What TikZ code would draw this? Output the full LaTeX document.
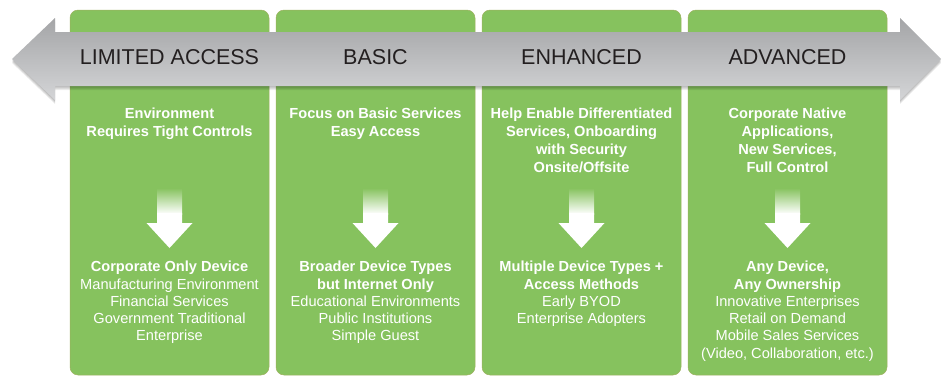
\documentclass[tikz,border=0pt]{standalone}
\usepackage{fontspec}
\setmainfont{Liberation Sans}
\definecolor{colgreen}{RGB}{134,194,94}
\definecolor{coledge}{RGB}{158,176,96}
\definecolor{bandtop}{RGB}{164,165,167}
\definecolor{bandbot}{RGB}{212,213,215}
\definecolor{headtext}{RGB}{35,31,32}
\tikzset{
  column/.style={fill=colgreen, draw=coledge, line width=0.5pt, rounded corners=8pt,
    minimum width=199pt, minimum height=365pt, inner sep=0pt},
  stage/.style={text=headtext, font=\fontsize{21.5}{25}\selectfont, inner sep=0pt},
  upper/.style={text=white, anchor=north, align=center, inner sep=0pt,
    font=\fontsize{14.6}{18}\selectfont\bfseries},
  lower/.style={text=white, anchor=north, align=center, inner sep=0pt,
    font=\fontsize{14.6}{17.3}\selectfont},
}
\begin{document}
\begin{tikzpicture}[x=1pt,y=-1pt]
\useasboundingbox (0,0) rectangle (942,376);

% four green stage columns
\node[column] (colA) at (169.5,192.5) {};
\node[column] (colB) at (375.5,192.5) {};
\node[column] (colC) at (581.5,192.5) {};
\node[column] (colD) at (787.5,192.5) {};

% soft shadow under the grey double arrow
\foreach \d in {1,2,3,4}
  \fill[black, opacity=0.07, yshift=-\d pt]
    (12,59) -- (55,18) -- (55,32) -- (900,32) -- (900,18) -- (941,59)
    -- (900,100) -- (900,86) -- (55,86) -- (55,100) -- cycle;

% grey double arrow
\shade[top color=bandtop, bottom color=bandbot]
  (12,59) -- (55,18) -- (55,32) -- (900,32) -- (900,18) -- (941,59)
  -- (900,100) -- (900,86) -- (55,86) -- (55,100) -- cycle;

% stage titles
\node[stage] (tA) at (colA.center |- 0,57.5) {LIMITED ACCESS};
\node[stage] (tB) at (colB.center |- 0,57.5) {BASIC};
\node[stage] (tC) at (colC.center |- 0,57.5) {ENHANCED};
\node[stage] (tD) at (colD.center |- 0,57.5) {ADVANCED};

% requirements
\node[upper] (rA) at (colA.center |- 0,108) {Environment\\Requires Tight Controls};
\node[upper] (rB) at (colB.center |- 0,108) {Focus on Basic Services\\Easy Access};
\node[upper] (rC) at (colC.center |- 0,108) {Help Enable Differentiated\\Services, Onboarding\\with Security\\Onsite/Offsite};
\node[upper] (rD) at (colD.center |- 0,108) {Corporate Native\\Applications,\\New Services,\\Full Control};

% white down arrows with fading shafts
\foreach \c in {colA,colB,colC,colD}{
  \path (\c.center) coordinate (m);
  \shade[top color=colgreen, bottom color=white]
    ([xshift=-12.5pt]m |- 0,188) rectangle ([xshift=12.5pt]m |- 0,214);
  \fill[white]
    ([xshift=-12.5pt]m |- 0,213) -- ([xshift=12.5pt]m |- 0,213)
    -- ([xshift=12.5pt]m |- 0,223) -- ([xshift=23pt]m |- 0,223)
    -- (m |- 0,248) -- ([xshift=-23pt]m |- 0,223)
    -- ([xshift=-12.5pt]m |- 0,223) -- cycle;
}

% devices and typical users
\node[lower] (dA) at (colA.center |- 0,261) {{\bfseries Corporate Only Device}\\Manufacturing Environment\\Financial Services\\Government Traditional\\Enterprise};
\node[lower] (dB) at (colB.center |- 0,261) {{\bfseries Broader Device Types}\\{\bfseries but Internet Only}\\Educational Environments\\Public Institutions\\Simple Guest};
\node[lower] (dC) at (colC.center |- 0,261) {{\bfseries Multiple Device Types +}\\{\bfseries Access Methods}\\Early BYOD\\Enterprise Adopters};
\node[lower] (dD) at (colD.center |- 0,261) {{\bfseries Any Device,}\\{\bfseries Any Ownership}\\Innovative Enterprises\\Retail on Demand\\Mobile Sales Services\\(Video, Collaboration, etc.)};
\end{tikzpicture}
\end{document}
